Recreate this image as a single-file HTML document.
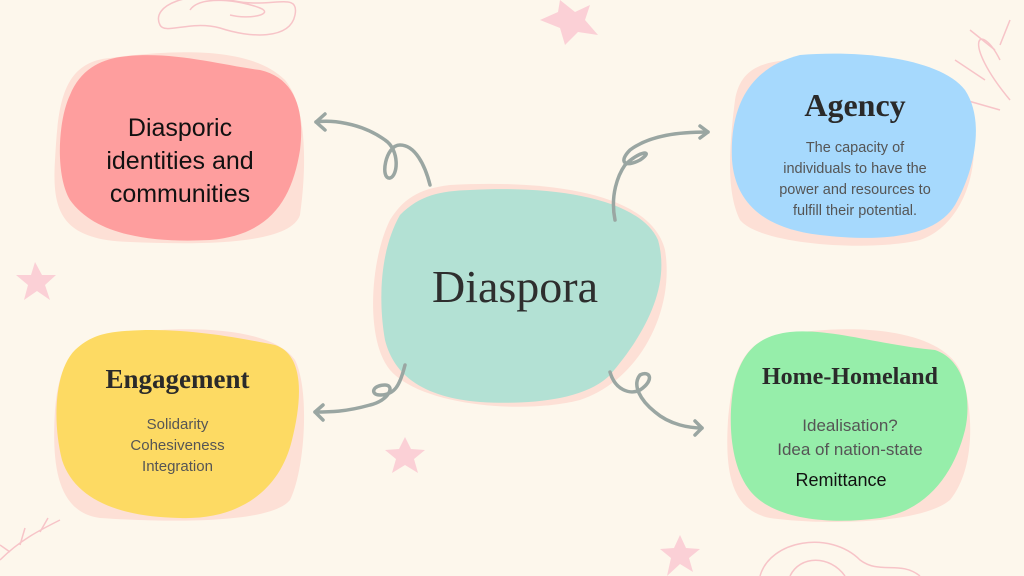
<!DOCTYPE html>
<html><head><style>
body{margin:0;width:1024px;height:576px;overflow:hidden;background:#fdf7ec;}
svg{position:absolute;left:0;top:0}
.t{position:absolute;text-align:center;color:#111;font-family:"Liberation Sans",sans-serif}
.h{font-family:"Liberation Serif",serif;font-weight:bold;color:#2a2a2a}
.g{color:#555}
</style></head><body>
<svg width="1024" height="576" viewBox="0 0 1024 576">
<g fill="none" stroke="#f7c4c8" stroke-width="1.5">
<path d="M160 25 C150 5 190 -10 230 0 C270 10 300 -10 295 15 C290 40 250 38 220 28 C190 20 165 35 160 25Z"/>
<path d="M190 10 C200 -5 240 0 260 8 C275 14 250 20 230 15"/>
<path d="M1000 60 C980 20 960 40 1010 100"/><path d="M970 30 L995 50 M955 60 L985 80 M965 100 L1000 110 M1010 20 L1000 45"/>
<path d="M760 576 C770 540 830 530 860 560 C880 575 900 560 920 576"/><path d="M790 576 C800 555 830 555 845 576"/>
<path d="M0 560 C20 540 40 530 60 520 M20 545 L25 528 M40 532 L48 518 M10 552 L0 545"/>
</g>
<g fill="#fbd0d6">
<path d="M560 0 L575 12 L590 5 L585 20 L598 35 L578 32 L565 45 L560 28 L540 20 L558 12Z"/>
<path d="M35 262 L42 275 L56 275 L45 285 L50 300 L37 291 L24 300 L28 285 L16 275 L31 275Z"/>
<path d="M405 437 L411 449 L425 450 L414 459 L418 473 L405 465 L392 473 L396 459 L385 450 L399 449Z"/>
<path d="M680 535 L686 548 L700 549 L689 558 L693 572 L680 564 L667 576 L671 558 L660 549 L674 548Z"/>
</g>
<g fill="#fde0d6">
<path d="M110 58 C170 50 250 45 285 80 C310 110 305 180 300 215 C290 245 200 245 130 242 C60 240 52 210 55 160 C58 110 60 62 110 58Z"/>
<path d="M790 60 C870 50 950 55 968 110 C985 160 965 225 920 240 C870 252 760 245 740 220 C725 190 730 140 735 100 C740 70 760 62 790 60Z"/>
<path d="M110 335 C180 325 270 325 295 360 C310 390 305 470 290 500 C270 525 160 522 100 518 C55 512 52 460 55 410 C58 370 70 340 110 335Z"/>
<path d="M780 335 C860 322 940 330 960 370 C975 410 975 470 950 500 C920 525 820 525 770 518 C730 510 725 470 728 420 C732 370 745 340 780 335Z"/>
<path d="M450 185 C540 180 650 190 665 250 C675 310 640 380 580 400 C520 415 420 405 390 370 C365 340 370 260 390 220 C405 195 425 188 450 185Z"/>
</g>
<path fill="#fe9e9e" d="M120 57 C170 50 220 65 260 70 C295 78 305 110 300 150 C292 200 270 235 210 240 C150 243 95 235 70 200 C55 175 58 120 70 95 C80 70 100 60 120 57Z"/>
<path fill="#a6d9fd" d="M800 55 C860 50 940 58 965 90 C985 120 975 170 955 205 C935 238 880 242 820 235 C760 228 735 200 732 160 C730 120 740 70 800 55Z"/>
<path fill="#fdda63" d="M115 332 C175 325 240 338 275 345 C305 355 302 400 292 440 C280 490 240 520 180 518 C120 517 75 500 62 460 C52 420 55 370 75 350 C88 338 100 334 115 332Z"/>
<path fill="#96eeaa" d="M790 332 C830 328 880 345 935 350 C965 360 972 400 965 430 C955 470 930 510 880 518 C830 525 770 520 748 488 C728 460 728 410 735 380 C745 345 765 335 790 332Z"/>
<path fill="#b3e1d4" d="M470 190 C560 185 640 200 658 240 C672 290 640 340 610 375 C585 400 530 405 480 402 C430 398 395 380 385 340 C378 300 380 250 400 215 C420 195 440 191 470 190Z"/>
<g fill="none" stroke="#9aa6a2" stroke-width="3.5" stroke-linecap="round" stroke-linejoin="round">
<path d="M430 185 C425 165 415 145 400 145 C385 145 380 180 390 178 C398 176 400 150 385 140 C360 122 330 120 316 122"/>
<path d="M325 114 L316 122 L325 130"/>
<path d="M615 220 C610 195 618 175 625 165 C640 150 655 150 640 160 C625 168 618 162 630 150 C650 135 680 132 708 132"/>
<path d="M700 126 L708 132 L700 138"/>
<path d="M405 365 C400 385 395 395 380 395 C370 395 372 385 385 385 C395 385 390 400 370 405 C345 412 330 412 315 412"/>
<path d="M323 405 L315 412 L323 420"/>
<path d="M610 372 C615 390 630 395 640 390 C655 380 650 370 640 375 C632 385 640 400 655 412 C670 425 690 428 702 428"/>
<path d="M695 421 L702 428 L695 435"/>
</g>
</svg>
<div class="t" style="left:70px;top:112px;width:220px;font-size:25px;line-height:33px">Diasporic<br>identities and<br>communities</div>
<div class="t" style="left:375px;top:260px;width:280px;font-size:46px;font-family:'Liberation Serif',serif;color:#2e2e2e">Diaspora</div>
<div class="t h" style="left:735px;top:87px;width:240px;font-size:32px">Agency</div>
<div class="t g" style="left:740px;top:138px;width:230px;font-size:14.5px;line-height:21px">The capacity of<br>individuals to have the<br>power and resources to<br>fulfill their potential.</div>
<div class="t h" style="left:60px;top:364px;width:235px;font-size:27px">Engagement</div>
<div class="t g" style="left:60px;top:414px;width:235px;font-size:15px;line-height:21px">Solidarity<br>Cohesiveness<br>Integration</div>
<div class="t h" style="left:730px;top:364px;width:240px;font-size:24px">Home-Homeland</div>
<div class="t g" style="left:730px;top:414px;width:240px;font-size:17px;line-height:24px">Idealisation?<br>Idea of nation-state</div>
<div class="t" style="left:721px;top:470px;width:240px;font-size:18px">Remittance</div>
</body></html>
